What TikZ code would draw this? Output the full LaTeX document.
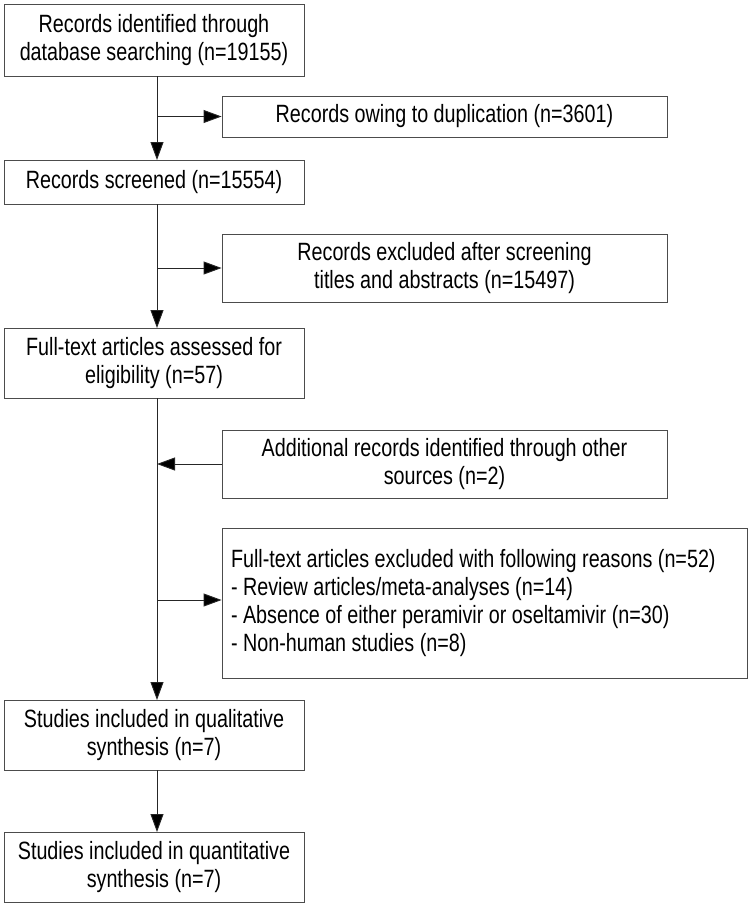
\documentclass[tikz,border=0pt]{standalone}
\usepackage{fontspec}
\setmainfont{Liberation Sans}[FakeStretch=0.79]
\usetikzlibrary{arrows.meta}
\begin{document}
\begin{tikzpicture}[x=1pt,y=-1pt,
  box/.style={draw=black!70, line width=0.9pt, inner sep=0pt, align=center,
    font=\fontsize{25}{28}\selectfont},
  flow/.style={draw=black!85, line width=0.9pt, -{Triangle[length=18pt,width=13pt,fill=black]}}]
\useasboundingbox (0,0) rectangle (752,908);
\node[box, minimum width=300pt, minimum height=72pt] (b1) at (154,40) {Records identified through\\database searching (n=19155)};
\node[box, minimum width=445pt, minimum height=41pt] (b2) at (444.5,116.5) {Records owing to duplication (n=3601)};
\node[box, minimum width=300pt, minimum height=44pt] (b3) at (154,182) {Records screened (n=15554)};
\node[box, minimum width=445pt, minimum height=68pt] (b4) at (444.5,268) {Records excluded after screening\\titles and abstracts (n=15497)};
\node[box, minimum width=300pt, minimum height=70pt] (b5) at (154,363) {Full-text articles assessed for\\eligibility (n=57)};
\node[box, minimum width=445pt, minimum height=68pt] (b6) at (444.5,464) {Additional records identified through other\\sources (n=2)};
\node[box, minimum width=525pt, minimum height=150pt, inner xsep=9pt, align=flush left, text width=507pt] (b7) at (484.5,603) {Full-text articles excluded with following reasons (n=52)\\- Review articles/meta-analyses (n=14)\\- Absence of either peramivir or oseltamivir (n=30)\\- Non-human studies (n=8)};
\node[box, minimum width=300pt, minimum height=70pt] (b8) at (154,735) {Studies included in qualitative\\synthesis (n=7)};
\node[box, minimum width=300pt, minimum height=70pt] (b9) at (154,867) {Studies included in quantitative\\synthesis (n=7)};
\coordinate (t1) at (157,76);
\coordinate (h1) at (157,160);
\coordinate (j1) at (157,116.5);
\coordinate (t3) at (157,204);
\coordinate (h3) at (157,328);
\coordinate (j3) at (157,268);
\coordinate (t5) at (157,398);
\coordinate (h5) at (157,700);
\coordinate (j6) at (157,464);
\coordinate (j7) at (157,600);
\coordinate (t8) at (157,770);
\coordinate (h8) at (157,832);
\draw[flow] (t1) -- (h1);
\draw[flow] (j1) -- (b2.west);
\draw[flow] (t3) -- (h3);
\draw[flow] (j3) -- (b4.west);
\draw[flow] (t5) -- (h5);
\draw[flow] (b6.west) -- (j6);
\draw[flow] (j7) -- (b7.west |- j7);
\draw[flow] (t8) -- (h8);
\end{tikzpicture}
\end{document}
